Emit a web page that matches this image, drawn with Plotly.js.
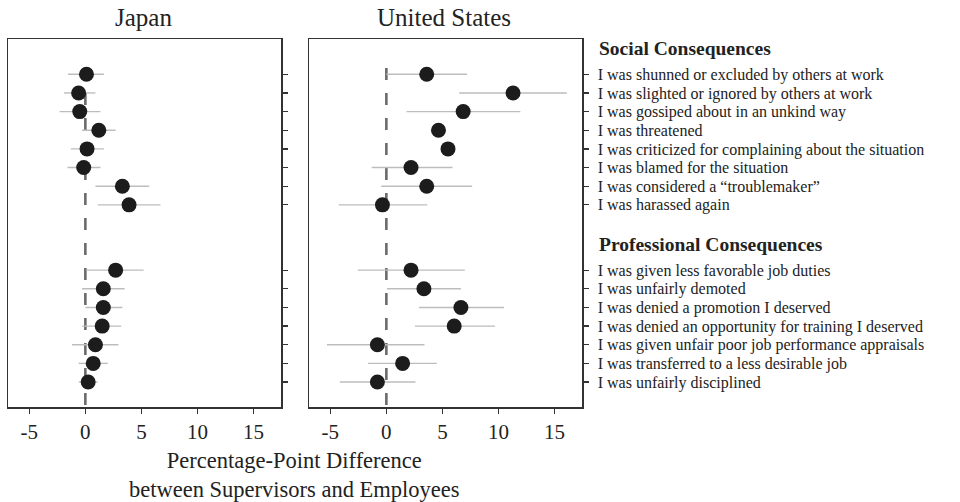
<!DOCTYPE html>
<html>
<head>
<meta charset="utf-8">
<script src="https://cdn.plot.ly/plotly-3.0.1.min.js"></script>
<style>html,body{margin:0;padding:0;background:#fff;}#chart{width:960px;height:502px;}</style>
</head>
<body>
<div id="chart"></div>
<script>
// ---------- DATA ----------
const socialItems = [
  "I was shunned or excluded by others at work",
  "I was slighted or ignored by others at work",
  "I was gossiped about in an unkind way",
  "I was threatened",
  "I was criticized for complaining about the situation",
  "I was blamed for the situation",
  "I was considered a \u201ctroublemaker\u201d",
  "I was harassed again"
];
const professionalItems = [
  "I was given less favorable job duties",
  "I was unfairly demoted",
  "I was denied a promotion I deserved",
  "I was denied an opportunity for training I deserved",
  "I was given unfair poor job performance appraisals",
  "I was transferred to a less desirable job",
  "I was unfairly disciplined"
];
const groupTitles = ["Social Consequences", "Professional Consequences"];
const panelTitles = ["Japan", "United States"];
const xTickVals = [-5, 0, 5, 10, 15];

// Japan: estimate, lower, upper (social then professional)
const japanEst   = [0.1, -0.6, -0.5, 1.2, 0.15, -0.15, 3.3, 3.9,   2.7, 1.6, 1.6, 1.5, 0.9, 0.7, 0.25];
const japanLower = [-1.55, -1.9, -2.3, -0.3, -1.3, -1.6, 0.9, 1.1,  0.1, -0.3, 0.0, -0.3, -1.2, -0.6, -0.6];
const japanUpper = [1.65, 0.9, 1.35, 2.7, 1.65, 1.35, 5.7, 6.7,    5.2, 3.5, 3.3, 3.2, 2.95, 2.0, 1.1];

// United States
const usEst   = [3.6, 11.3, 6.85, 4.65, 5.5, 2.2, 3.6, -0.35,   2.2, 3.35, 6.65, 6.05, -0.8, 1.45, -0.8];
const usLower = [0.0, 6.5, 1.8, 4.65, 5.5, -1.3, -0.45, -4.25,  -2.55, 0.05, 2.9, 2.55, -5.3, -1.65, -4.15];
const usUpper = [7.2, 16.1, 11.95, 4.65, 5.5, 5.9, 7.65, 3.65,  7.0, 6.65, 10.5, 9.7, 3.4, 4.5, 2.6];

const xAxisTitle = "Percentage-Point Difference<br>between Supervisors and Employees";

// ---------- BUILD ----------
const labels = socialItems.concat(professionalItems);
const groupGap = 2.5;
const ypos = socialItems.map((_, i) => i)
  .concat(professionalItems.map((_, j) => socialItems.length + groupGap + j));

const W = 960, H = 502;
const px = v => v / W;
const plotTop = 39, plotBottom = 407;
const py = p => (plotBottom - p) / (plotBottom - plotTop); // pixel -> paper y
const rowTopPx = 74.3, rowStepPx = 18.65;
const yTop = -(rowTopPx - plotTop) / rowStepPx;
const yBottom = (plotBottom - rowTopPx) / rowStepPx;
const yRange = [yBottom, yTop];
const xRange = [-6.9, 17.45];

const font = "Liberation Serif, Times New Roman, serif";
const ink = "#222";

function trace(est, lo, hi, xa, ya) {
  return {
    type: "scatter", mode: "markers",
    x: est, y: ypos, xaxis: xa, yaxis: ya,
    marker: {color: "#1c1c1c", size: 15, line: {width: 0}},
    error_x: {
      type: "data", symmetric: false,
      array: est.map((v, i) => hi[i] - v),
      arrayminus: est.map((v, i) => v - lo[i]),
      color: "#bdbdbd", thickness: 1.4, width: 0
    },
    hoverinfo: "skip", showlegend: false
  };
}

const data = [
  trace(japanEst, japanLower, japanUpper, "x", "y"),
  trace(usEst, usLower, usUpper, "x2", "y2")
];

const xCommon = {
  range: xRange, tickvals: xTickVals, ticktext: xTickVals.map(String),
  ticks: "outside", ticklen: 5, tickwidth: 1.3, tickcolor: "#333",
  showline: true, mirror: true, linecolor: "#333", linewidth: 1.5,
  showgrid: false, zeroline: false,
  tickfont: {family: font, size: 21, color: ink}
};
const yCommon = {
  range: yRange, tickvals: ypos, ticktext: labels, side: "right",
  ticks: "outside", ticklen: 5, tickwidth: 1.2, tickcolor: "#333",
  showline: true, mirror: true, linecolor: "#333", linewidth: 1.5,
  showgrid: false, zeroline: false,
  tickfont: {family: font, size: 16, color: ink}
};

const shapes = ["x", "x2"].map((xr, k) => ({
  type: "line", xref: xr, yref: k === 0 ? "y" : "y2",
  x0: 0, x1: 0, y0: -0.34, y1: yBottom,
  line: {color: "#6b6b6b", width: 2.6, dash: "12px,13px"},
  layer: "below"
}));

const headerYs = [-1.36, 9.1];
const annotations = [
  {text: panelTitles[0], xref: "paper", yref: "paper", x: px(143), y: py(17),
   xanchor: "center", yanchor: "middle", showarrow: false,
   font: {family: font, size: 25, color: ink}},
  {text: panelTitles[1], xref: "paper", yref: "paper", x: px(444), y: py(17),
   xanchor: "center", yanchor: "middle", showarrow: false,
   font: {family: font, size: 25, color: ink}},
  {text: xAxisTitle, xref: "paper", yref: "paper", x: px(294), y: py(475),
   xanchor: "center", yanchor: "middle", showarrow: false,
   font: {family: font, size: 22.5, color: ink}}
].concat(groupTitles.map((t, i) => ({
  text: "<b>" + t + "</b>", xref: "paper", yref: "y2", x: px(597), y: headerYs[i],
  xanchor: "left", yanchor: "middle", showarrow: false,
  font: {family: font, size: 19.5, color: ink}
})));

const layout = {
  width: W, height: H,
  margin: {l: 0, r: 0, t: plotTop, b: H - plotBottom, pad: 0},
  paper_bgcolor: "#fff", plot_bgcolor: "#fff",
  xaxis: Object.assign({}, xCommon, {domain: [px(8), px(281)], anchor: "y"}),
  yaxis: Object.assign({}, yCommon, {anchor: "x", showticklabels: false}),
  xaxis2: Object.assign({}, xCommon, {domain: [px(309), px(582)], anchor: "y2"}),
  yaxis2: Object.assign({}, yCommon, {anchor: "x2", showticklabels: true, ticklabelstandoff: 6}),
  shapes: shapes,
  annotations: annotations,
  font: {family: font, color: ink}
};

Plotly.newPlot("chart", data, layout, {displayModeBar: false, staticPlot: true});
</script>
</body>
</html>
